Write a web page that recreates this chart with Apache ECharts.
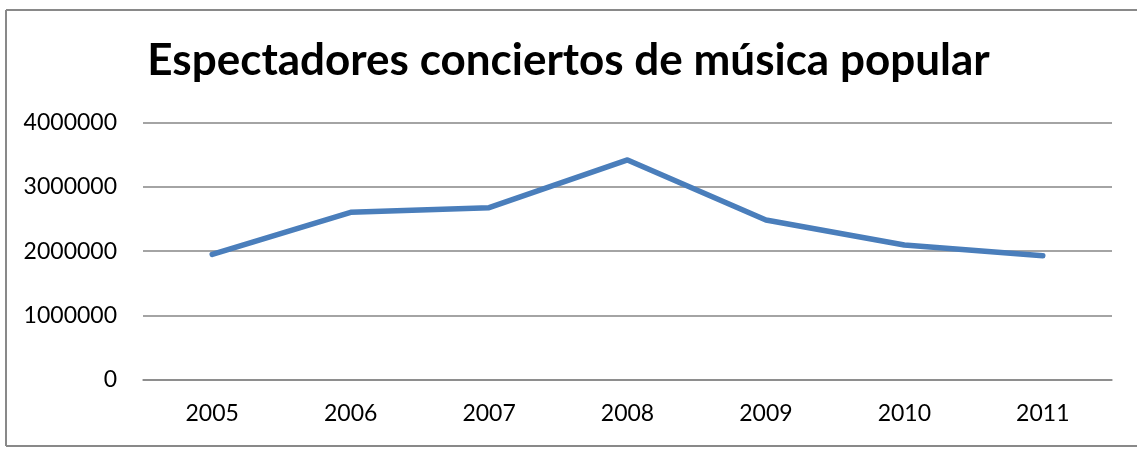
<!DOCTYPE html>
<html>
<head>
<meta charset="utf-8">
<script src="https://cdn.jsdelivr.net/npm/echarts@6/dist/echarts.min.js"></script>
<style>
html,body{margin:0;padding:0;background:#fff;overflow:hidden;}
#chart{width:1137px;height:450px;}
</style>
</head>
<body>
<div id="chart"></div>
<script>
const titleText = 'Espectadores conciertos de música popular';
const years = ['2005','2006','2007','2008','2009','2010','2011'];
const spectators = [1950000, 2605000, 2677000, 3420000, 2485000, 2097000, 1930000];
const yMin = 0, yMax = 4000000, yStep = 1000000;

const borderStyle = { stroke: '#898989', lineWidth: 2 };
const chart = echarts.init(document.getElementById('chart'));
chart.setOption({
  backgroundColor: '#fff',
  animation: false,
  title: {
    text: titleText,
    left: 'center',
    top: 34,
    textStyle: { fontFamily: 'Lato', fontWeight: 'bold', fontSize: 44, color: '#000' }
  },
  graphic: [
    { type: 'line', shape: { x1: 6, y1: 10, x2: 1137, y2: 10 }, style: borderStyle, silent: true },
    { type: 'line', shape: { x1: 6, y1: 10, x2: 6, y2: 446 }, style: borderStyle, silent: true },
    { type: 'line', shape: { x1: 6, y1: 446, x2: 1137, y2: 446 }, style: borderStyle, silent: true }
  ],
  grid: { left: 143, right: 25, top: 122.7, bottom: 70.3, containLabel: false },
  xAxis: {
    type: 'category',
    data: years,
    boundaryGap: true,
    axisLine: { show: true, lineStyle: { color: '#868686', width: 1.5 } },
    axisTick: { show: false },
    axisLabel: { fontFamily: 'Lato', fontSize: 23, color: '#000', margin: 22 }
  },
  yAxis: {
    type: 'value',
    min: yMin, max: yMax, interval: yStep,
    axisLine: { show: false },
    axisTick: { show: false },
    axisLabel: { fontFamily: 'Lato', fontSize: 23, color: '#000', margin: 26, formatter: v => String(v) },
    splitLine: { lineStyle: { color: '#868686', width: 1.5 } }
  },
  series: [{
    type: 'line',
    data: spectators,
    showSymbol: false,
    symbol: 'none',
    lineStyle: { color: '#4a7ebb', width: 5.5, cap: 'round', join: 'round' }
  }]
});
</script>
</body>
</html>
